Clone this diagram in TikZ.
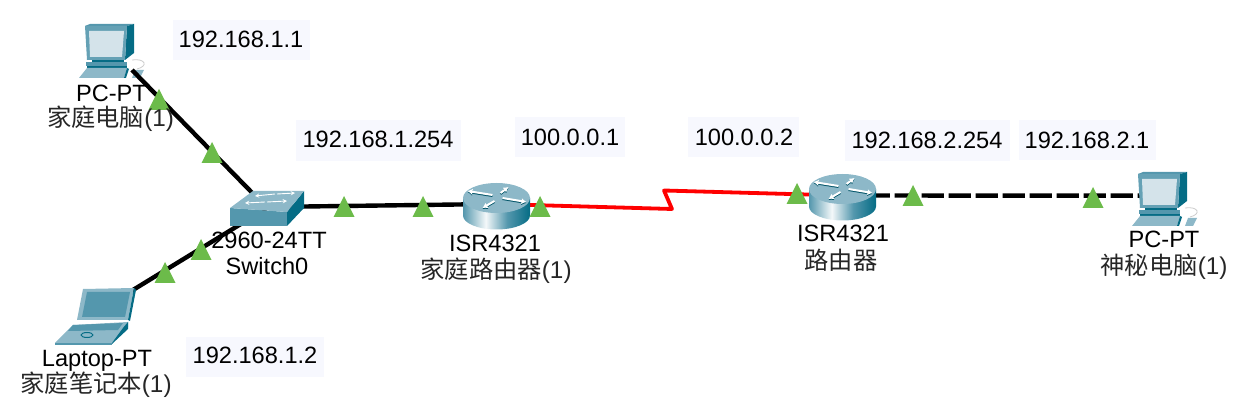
\documentclass[tikz,border=0pt]{standalone}
\usepackage{fontspec}
\setmainfont{Liberation Sans}
\newfontfamily\cjkf{Noto Sans CJK SC}
\usetikzlibrary{arrows.meta}
\definecolor{tealL}{HTML}{8DB8C8}
\definecolor{tealM}{HTML}{5497AD}
\definecolor{tealD}{HTML}{056C85}
\definecolor{screenL}{HTML}{D4E3EA}
\definecolor{boxbg}{HTML}{F7F8FE}
\definecolor{lamp}{HTML}{6CBB4A}
\definecolor{wire}{HTML}{000000}
\definecolor{redwire}{HTML}{FF0000}
\pgfdeclarehorizontalshading{routerbody}{100bp}{color(0bp)=(tealM); color(25bp)=(tealM); color(42bp)=(white!90!tealL); color(58bp)=(tealM); color(75bp)=(tealD); color(100bp)=(tealD)}
\tikzset{
  x=1pt,y=-1pt,
  txt/.style={font=\fontsize{23.6}{28}\selectfont,anchor=base,inner sep=0pt,text=black},
  cjktxt/.style={txt,font=\fontsize{24.3}{28}\selectfont,text=black!85},
  ipbox/.style={fill=boxbg,draw=none},
  dev/.style={inner sep=0pt,minimum size=2pt},
  cable/.style={line width=4.4pt,draw=wire},
  serial/.style={line width=3.8pt,draw=redwire,line join=round},
  cross/.style={line width=4.4pt,draw=wire,dash pattern=on 22.3pt off 4.7pt,dash phase=3.7pt},
  rarrow/.style={line width=2pt,-{Latex[length=5pt,width=6pt]}},
  lamptri/.pic={\fill[lamp] (-10.5,0) -- (0,-21) -- (10.5,0) -- cycle;},
  pcicon/.pic={
    \fill[tealM] (8,2) -- (13,0) -- (57,0) -- (50,2) -- cycle;
    \fill[tealD] (50,2) -- (57,0) -- (57,29) -- (48,36) -- cycle;
    \fill[tealM!90!white] (8,2) -- (50,2) -- (48,36) -- (10,36) -- cycle;
    \fill[screenL] (12,7) -- (47,7) -- (45,33) -- (13,33) -- cycle;
    \fill[tealD] (15,36) -- (47,36) -- (47,39) -- (15,39) -- cycle;
    \fill[tealM] (9,38) -- (50,38) -- (50,42) -- (9,42) -- cycle;
    \fill[tealD] (10,42) -- (50,42) -- (50,44) -- (10,44) -- cycle;
    \fill[tealL] (2,54) -- (10,44) -- (50,44) -- (47,54) -- cycle;
    \fill[tealD] (47,54) -- (50,44) -- (52,45) -- (49,54) -- cycle;
    \fill[tealL] (55,54) -- (58,46) -- (67,46) -- (63,54) -- cycle;
    \draw[black!20,line width=.8pt] (55,36) .. controls (68,34) and (72,42) .. (60,45);
  },
  routericon/.pic={
    \shade[shading=routerbody,shading angle=0] (-33.5,0) -- (-33.5,17.5) arc[start angle=180,end angle=0,x radius=33.5,y radius=14] -- (33.5,0) -- cycle;
    \fill[tealL] (0,0) ellipse[x radius=33.5,y radius=15];
    \foreach \a/\b/\c/\d in {-4/-3/-29/-7, 4/-5/12/-11, -2/3/-14/10, 6/0/30/4}{
      \draw[tealD!80!black,rarrow] (\a,\b+1) -- (\c,\d+1);
      \draw[white,rarrow] (\a,\b) -- (\c,\d);
    }
  },
  switchicon/.pic={
    \fill[tealM] (0,18) -- (57,22) -- (57,36) -- (0,36) -- cycle;
    \fill[tealD] (57,22) -- (74,1) -- (74,18) -- (57,36) -- cycle;
    \fill[tealL] (0,18) -- (23,1) -- (74,1) -- (57,22) -- cycle;
    \draw[white,line width=.9pt,-stealth] (45,4) -- (25,6);
    \draw[white,line width=.9pt,-stealth] (47,4) -- (65,3);
    \draw[white,line width=.9pt,-stealth] (35,12) -- (15,13);
    \draw[white,line width=.9pt,-stealth] (37,12) -- (57,11);
  },
  laptopicon/.pic={
    \fill[tealL] (83,289) -- (134,288) -- (128,320) -- (77,320) -- cycle;
    \fill[tealM] (87,292) -- (130,292) -- (125,317) -- (82,317) -- cycle;
    \fill[tealD] (134,288) -- (136,290) -- (130,321) -- (128,320) -- cycle;
    \fill[tealL] (55,343) -- (73,325) -- (128,322) -- (128,327) -- (112,343) -- cycle;
    \fill[tealM] (73,325) -- (123,323) -- (118,330) -- (68,331) -- cycle;
    \fill[tealD] (128,322) -- (128,329) -- (112,344) -- (112,343) -- (123,328) -- cycle;
    \fill[tealM] (55,343) -- (112,343) -- (112,345) -- (55,345) -- cycle;
    \draw[tealD,line width=1pt] (87,335) ellipse[x radius=6,y radius=2.5];
  }
}
\begin{document}
\begin{tikzpicture}
\useasboundingbox (0,0) rectangle (1243,411);
% devices (anchor points for connectors)
\coordinate (pcAport) at (132,70);
\node[dev] (lap) at (97,312) {};
\node[dev] (sw) at (267,208) {};
\node[dev] (swr) at (267,207) {};
\node[dev] (rA) at (496,204) {};
\node[dev] (rB) at (843,195.5) {};
\node[dev] (pcB) at (1163,195.7) {};
\coordinate (kinkA) at (672,209);
\coordinate (kinkB) at (664,190.5);
% connectors and icons
\pic at (77,24) {pcicon};
\draw[cable] (pcAport) -- (sw);
\draw[cable] (lap) -- (sw);
\draw[cable] (swr) -- (rA);
\draw[serial] (rA) -- (kinkA) -- (kinkB) -- (rB);
\draw[cross] (rB) -- (pcB);
\pic at (1130,172) {pcicon};
\pic at (0,0) {laptopicon};
\pic at (230,190) {switchicon};
\pic at (496.5,198) {routericon};
\pic at (842.5,189) {routericon};
% link lights
\pic at (159,110) {lamptri};
\pic at (212,163) {lamptri};
\pic at (165,283) {lamptri};
\pic at (201,260) {lamptri};
\pic at (344,217) {lamptri};
\pic at (423,217) {lamptri};
\pic at (540,217) {lamptri};
\pic at (797,204) {lamptri};
\pic at (913,206) {lamptri};
\pic at (1093,208) {lamptri};
% address boxes
\fill[ipbox] (173,20) rectangle (310,60);
\fill[ipbox] (296,120) rectangle (461,161);
\fill[ipbox] (515,117) rectangle (625,157);
\fill[ipbox] (688,117) rectangle (799,157);
\fill[ipbox] (845,120) rectangle (1010,161);
\fill[ipbox] (1019,120) rectangle (1156,160);
\fill[ipbox] (186,337) rectangle (324,377);
\node[txt] (ipa) at (241,48) {192.168.1.1};
\node[txt] (ipb) at (378,148) {192.168.1.254};
\node[txt] (ipc) at (570,146) {100.0.0.1};
\node[txt] (ipd) at (744,146) {100.0.0.2};
\node[txt] (ipe) at (927,149) {192.168.2.254};
\node[txt] (ipf) at (1087,149) {192.168.2.1};
\node[txt] (ipg) at (255,364) {192.168.1.2};
% device labels
\node[txt] (la) at (111.5,102) {PC-PT};
\node[cjktxt] (lb) at (110.5,127) {{\cjkf 家庭电脑}(1)};
\node[txt] (lc) at (269,249) {2960-24TT};
\node[txt] (ld) at (267,275) {Switch0};
\node[txt] (le) at (97,367) {Laptop-PT};
\node[cjktxt] (lf) at (96,393) {{\cjkf 家庭笔记本}(1)};
\node[txt] (lg) at (495,252) {ISR4321};
\node[cjktxt] (lh) at (496,279) {{\cjkf 家庭路由器}(1)};
\node[txt] (li) at (843,242) {ISR4321};
\node[cjktxt] (lj) at (841,270) {{\cjkf 路由器}};
\node[txt] (lk) at (1164,248) {PC-PT};
\node[cjktxt] (ll) at (1164,275) {{\cjkf 神秘电脑}(1)};
\end{tikzpicture}
\end{document}
